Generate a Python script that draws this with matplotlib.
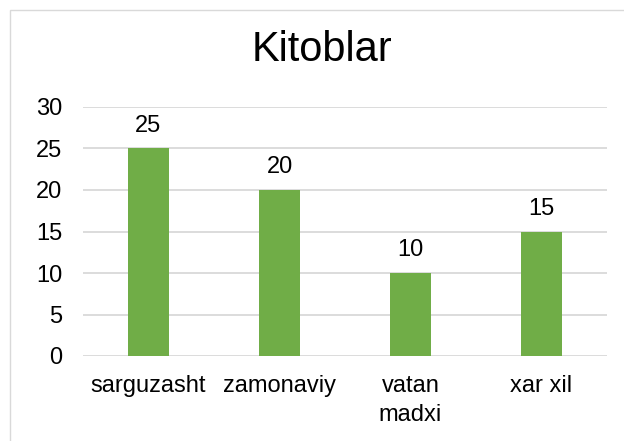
import matplotlib
matplotlib.use('Agg')
import matplotlib.pyplot as plt
from matplotlib.patches import Rectangle

plt.rcParams['font.family'] = ['Liberation Sans', 'DejaVu Sans']

categories = ['sarguzasht', 'zamonaviy', 'vatan\nmadxi', 'xar xil']
values = [25, 20, 10, 15]
yticks = [0, 5, 10, 15, 20, 25, 30]

fig = plt.figure(figsize=(6.24, 4.41), dpi=100)
# chart border
fig.patches.append(Rectangle((10 / 624, -0.1), 1.1, 1 - 10 / 441 + 0.1, transform=fig.transFigure,
                             fill=False, edgecolor='#d9d9d9', linewidth=1))
ax = fig.add_axes([83 / 624, 1 - 356 / 441, (607 - 83) / 624, (356 - 107) / 441])

x = range(len(categories))
ax.bar(x, values, width=0.32, color='#70ad47', zorder=3)
for i, v in zip(x, values):
    ax.text(i, v + 1.4, str(v), ha='center', va='bottom', fontsize=17, color='#000000')

ax.set_xlim(-0.5, 3.5)
ax.set_ylim(0, 30)
ax.set_yticks(yticks)
ax.set_xticks(list(x))
ax.set_xticklabels(categories, fontsize=17, linespacing=1.4)
ax.tick_params(axis='y', labelsize=17, length=0, pad=15)
ax.tick_params(axis='x', length=0, pad=14)
ax.grid(axis='y', color='#d9d9d9', linewidth=1.3, zorder=0)
for s in ax.spines.values():
    s.set_visible(False)

fig.text(322 / 624, 1 - 50 / 441, 'Kitoblar', ha='center', va='center', fontsize=30)

fig.savefig('out.png', dpi=100)
